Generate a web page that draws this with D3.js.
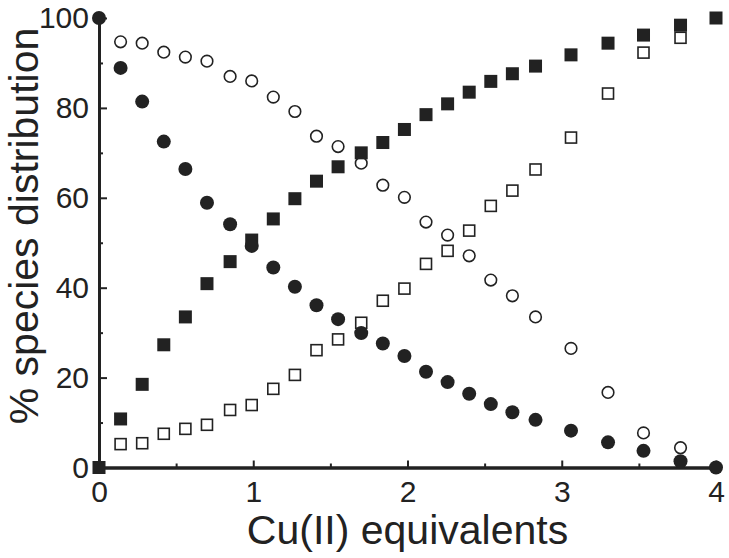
<!DOCTYPE html>
<meta charset="utf-8">
<style>
body { margin: 0; background: #fff; }
text { font-family: "Liberation Sans", Arial, sans-serif; fill: #222; }
.axis path, .axis line { stroke: #222; }
.axis path { stroke-width: 3px; }
.axis line { stroke-width: 2px; }
</style>
<svg width="729" height="558"></svg>
<script src="https://d3js.org/d3.v7.min.js"></script>
<script>

// Cu(II) equivalents (shared x values)
var equivalents = [0, 0.14, 0.28, 0.42, 0.56, 0.70, 0.85, 0.99, 1.13, 1.27, 1.41, 1.55, 1.70,
                   1.84, 1.98, 2.12, 2.26, 2.40, 2.54, 2.68, 2.83, 3.06, 3.30, 3.53, 3.77, 4.0];

var filledSquare = [0, 10.8, 18.5, 27.3, 33.5, 40.9, 45.8, 50.6, 55.3, 59.8, 63.7, 66.9, 70.0,
                    72.3, 75.2, 78.5, 80.9, 83.5, 85.9, 87.6, 89.3, 91.8, 94.4, 96.2, 98.4, 100];
var filledCircle = [100, 88.9, 81.4, 72.5, 66.4, 58.9, 54.1, 49.3, 44.5, 40.2, 36.1, 33.0, 29.9,
                    27.6, 24.8, 21.3, 19.0, 16.4, 14.1, 12.3, 10.6, 8.2, 5.6, 3.7, 1.4, 0];
var openCircle = [null, 94.7, 94.4, 92.4, 91.3, 90.4, 87.0, 86.0, 82.4, 79.2, 73.7, 71.4, 67.7,
                  62.8, 60.1, 54.6, 51.7, 47.1, 41.7, 38.2, 33.5, 26.5, 16.7, 7.7, 4.4, null];
var openSquare = [null, 5.2, 5.4, 7.5, 8.6, 9.5, 12.8, 13.9, 17.5, 20.6, 26.1, 28.5, 32.2,
                  37.1, 39.8, 45.3, 48.2, 52.7, 58.2, 61.6, 66.3, 73.4, 83.2, 92.3, 95.6, null];

var xTicks = [0, 1, 2, 3, 4],
    xMinor = [0.5, 1.5, 2.5, 3.5],
    yTicks = [0, 20, 40, 60, 80, 100],
    yMinor = [10, 30, 50, 70, 90];

var svg = d3.select("svg");

var x = d3.scaleLinear().domain([0, 4]).range([99, 716]),
    y = d3.scaleLinear().domain([0, 100]).range([467.5, 18]);

// axes, ticks pointing inward
svg.append("g")
    .attr("class", "axis")
    .attr("transform", "translate(0," + y(0) + ")")
    .call(d3.axisBottom(x).tickValues(xMinor).tickSize(-4).tickSizeOuter(0).tickFormat(""));

var xAxis = svg.append("g")
    .attr("class", "axis")
    .attr("transform", "translate(0," + y(0) + ")")
    .call(d3.axisBottom(x).tickValues(xTicks).tickSize(-7).tickSizeOuter(0).tickPadding(13).tickFormat(d3.format("d")));
xAxis.selectAll("text").style("font-size", "30px");

svg.append("g")
    .attr("class", "axis")
    .attr("transform", "translate(" + x(0) + ",0)")
    .call(d3.axisLeft(y).tickValues(yMinor).tickSize(-4).tickSizeOuter(0).tickFormat(""));

var yAxis = svg.append("g")
    .attr("class", "axis")
    .attr("transform", "translate(" + x(0) + ",0)")
    .call(d3.axisLeft(y).tickValues(yTicks).tickSize(-8).tickSizeOuter(0).tickPadding(10).tickFormat(d3.format("d")));
yAxis.selectAll("text").style("font-size", "30px");

// axis titles
svg.append("text")
    .attr("x", x(2))
    .attr("y", 544)
    .attr("text-anchor", "middle")
    .style("font-size", "41px")
    .text("Cu(II) equivalents");

svg.append("text")
    .attr("transform", "translate(38,226) rotate(-90)")
    .attr("text-anchor", "middle")
    .style("font-size", "41px")
    .text("% species distribution");

function pts(values) {
  return values.map(function(v, i) { return {x: equivalents[i], y: v}; })
               .filter(function(d) { return d.y != null; });
}

var ink = "#222";

svg.append("g").selectAll("rect")
  .data(pts(openSquare))
  .enter().append("rect")
    .attr("x", function(d) { return x(d.x) - 5.5; })
    .attr("y", function(d) { return y(d.y) - 5.5; })
    .attr("width", 11)
    .attr("height", 11)
    .attr("fill", "#fff")
    .attr("stroke", ink)
    .attr("stroke-width", 1.6);

svg.append("g").selectAll("circle")
  .data(pts(openCircle))
  .enter().append("circle")
    .attr("cx", function(d) { return x(d.x); })
    .attr("cy", function(d) { return y(d.y); })
    .attr("r", 5.8)
    .attr("fill", "#fff")
    .attr("stroke", ink)
    .attr("stroke-width", 1.6);

svg.append("g").selectAll("rect")
  .data(pts(filledSquare))
  .enter().append("rect")
    .attr("x", function(d) { return x(d.x) - 6.5; })
    .attr("y", function(d) { return y(d.y) - 6.5; })
    .attr("width", 13)
    .attr("height", 13)
    .attr("fill", ink);

svg.append("g").selectAll("circle")
  .data(pts(filledCircle))
  .enter().append("circle")
    .attr("cx", function(d) { return x(d.x); })
    .attr("cy", function(d) { return y(d.y); })
    .attr("r", 7)
    .attr("fill", ink);

</script>
